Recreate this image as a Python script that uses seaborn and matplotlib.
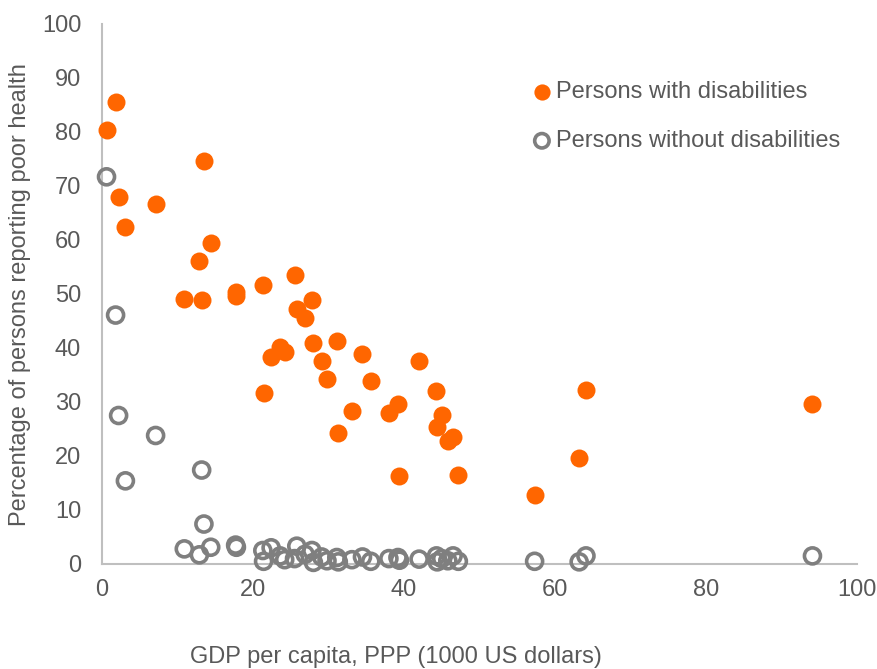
import matplotlib
matplotlib.use("Agg")
import matplotlib.pyplot as plt
import seaborn as sns
import pandas as pd

# GDP per capita, PPP (1000 US dollars) per country
gdp = [0.6, 1.8, 2.2, 3.1, 7.1, 10.9, 12.9, 13.2, 13.5, 14.4,
       17.7, 17.8, 21.3, 21.4, 22.4, 23.6, 24.2, 25.5, 25.8, 26.9,
       27.8, 28.0, 29.1, 29.8, 31.1, 31.3, 33.1, 34.5, 35.6, 38.0,
       39.2, 39.4, 42.0, 44.3, 44.4, 45.0, 45.8, 46.5, 47.2, 57.3,
       63.2, 64.1, 94.1]
# Percentage reporting poor health, persons with disabilities
with_dis = [80.4, 85.5, 68.0, 62.5, 66.7, 49.1, 56.2, 48.8, 74.6, 59.4,
            50.4, 49.6, 51.6, 31.6, 38.4, 40.1, 39.3, 53.5, 47.2, 45.6,
            48.8, 40.9, 37.6, 34.2, 41.3, 24.2, 28.3, 38.9, 33.9, 27.9,
            29.6, 16.3, 37.6, 32.0, 25.4, 27.6, 22.8, 23.5, 16.5, 12.8,
            19.6, 32.2, 29.6]
# Percentage reporting poor health, persons without disabilities
without_dis = [71.7, 46.1, 27.5, 15.4, 23.8, 2.8, 1.7, 17.4, 7.4, 3.1,
               3.5, 3.1, 2.5, 0.5, 3.0, 1.5, 0.8, 1.0, 3.3, 1.8,
               2.5, 0.3, 1.3, 0.6, 1.2, 0.4, 0.8, 1.3, 0.5, 1.0,
               1.2, 0.7, 0.9, 1.5, 0.4, 1.0, 0.6, 1.5, 0.5, 0.5,
               0.4, 1.5, 1.5]

labels = ["Persons with disabilities", "Persons without disabilities"]
x_ticks = [0, 20, 40, 60, 80, 100]
y_ticks = [0, 10, 20, 30, 40, 50, 60, 70, 80, 90, 100]

df = pd.DataFrame({"gdp": gdp, "with": with_dis, "without": without_dis})

sns.set_style("white")
plt.rcParams["font.family"] = ["Liberation Sans", "DejaVu Sans"]

ORANGE = "#FF6600"
GREY = "#7F7F7F"
TXT = "#595959"
AXC = "#BFBFBF"
FS = 17

fig = plt.figure(figsize=(8.78, 6.69), dpi=100)
ax = fig.add_axes([102 / 878, 1 - 564 / 669, 755 / 878, 540 / 669])

sns.scatterplot(data=df, x="gdp", y="with", ax=ax, color=ORANGE, s=168,
                linewidth=0, clip_on=False, label=labels[0], zorder=3)
sns.scatterplot(data=df, x="gdp", y="without", ax=ax, s=133,
                linewidth=2.6, clip_on=False, label=labels[1], zorder=3)
coll = ax.collections[-1]
coll.set_facecolor("none")
coll.set_edgecolor(GREY)

ax.set_xlim(0, 100)
ax.set_ylim(0, 100)
ax.set_xticks(x_ticks)
ax.set_yticks(y_ticks)
ax.set_xlabel("")
ax.set_ylabel("")
for s in ["top", "right"]:
    ax.spines[s].set_visible(False)
for s in ["left", "bottom"]:
    ax.spines[s].set_color(AXC)
    ax.spines[s].set_linewidth(1.5)
ax.tick_params(axis="both", direction="in", length=4, width=1.2, color=AXC,
               labelsize=FS, labelcolor=TXT)
ax.tick_params(axis="y", pad=15)
ax.tick_params(axis="x", pad=11)

fig.text(20 / 878, 1 - 295 / 669, "Percentage of persons reporting poor health",
         rotation=90, ha="center", va="center", fontsize=FS, color=TXT)
fig.text(190 / 878, 1 - 657 / 669, "GDP per capita, PPP (1000 US dollars)",
         ha="left", va="center", fontsize=FS, color=TXT)

handles, lab = ax.get_legend_handles_labels()
leg = ax.legend(handles, lab, loc="upper left",
                bbox_to_anchor=(523 / 878, 1 - 69 / 669),
                bbox_transform=fig.transFigure, frameon=False,
                fontsize=FS, labelcolor=TXT, handlelength=0.6,
                handletextpad=0.3, labelspacing=1.15, borderpad=0,
                markerscale=0.9)
lh = leg.legend_handles
lh[1].set_facecolor("none")
lh[1].set_edgecolor(GREY)

fig.savefig("out.png", dpi=100)
